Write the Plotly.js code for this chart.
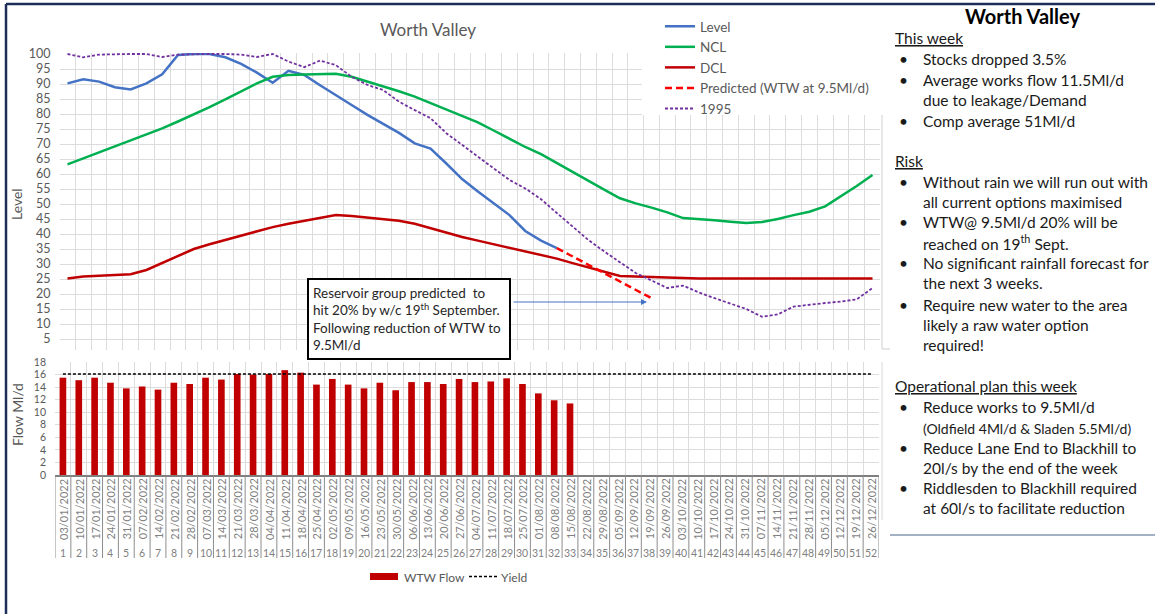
<!DOCTYPE html>
<html><head><meta charset="utf-8">
<script src="https://cdn.plot.ly/plotly-3.0.1.min.js"></script>
<style>html,body{margin:0;padding:0;background:#fff;}#chart{width:1155px;height:614px;}</style>
</head><body><div id="chart"></div>
<script>
// ---------- DATA ----------
const weeks = [1,2,3,4,5,6,7,8,9,10,11,12,13,14,15,16,17,18,19,20,21,22,23,24,25,26,27,28,29,30,31,32,33,34,35,36,37,38,39,40,41,42,43,44,45,46,47,48,49,50,51,52];
const weekDates = ["03/01/2022","10/01/2022","17/01/2022","24/01/2022","31/01/2022","07/02/2022","14/02/2022","21/02/2022","28/02/2022","07/03/2022","14/03/2022","21/03/2022","28/03/2022","04/04/2022","11/04/2022","18/04/2022","25/04/2022","02/05/2022","09/05/2022","16/05/2022","23/05/2022","30/05/2022","06/06/2022","13/06/2022","20/06/2022","27/06/2022","04/07/2022","11/07/2022","18/07/2022","25/07/2022","01/08/2022","08/08/2022","15/08/2022","22/08/2022","29/08/2022","05/09/2022","12/09/2022","19/09/2022","26/09/2022","03/10/2022","10/10/2022","17/10/2022","24/10/2022","31/10/2022","07/11/2022","14/11/2022","21/11/2022","28/11/2022","05/12/2022","12/12/2022","19/12/2022","26/12/2022"];
const level = [90.2,91.6,90.8,88.9,88.2,90.2,93.2,99.7,100,100,98.9,96.7,93.8,90.4,94.4,93.0,89.6,86.2,83.0,79.7,76.8,73.7,70.2,68.5,63.5,58.3,54.2,50.2,46.3,41.0,37.8,35.3];
const ncl = [63.2,65.2,67.2,69.2,71.1,73.0,75.2,77.5,79.8,82.3,84.9,87.6,90.2,92.4,93.0,93.2,93.4,93.4,92.4,90.8,89.3,87.6,85.8,83.6,81.6,79.4,77.2,74.5,71.8,69.0,66.6,63.6,60.6,57.8,54.8,51.9,50.2,48.8,47.2,45.3,45.0,44.6,44.1,43.7,44.0,45.0,46.3,47.4,49.2,52.5,56.0,59.7];
const dcl = [25.2,25.8,26.1,26.3,26.6,28.0,30.4,32.8,35.0,36.6,38.0,39.6,41.0,42.3,43.4,44.3,45.3,46.3,46.0,45.5,45.0,44.4,43.4,41.9,40.4,39.0,37.8,36.6,35.4,34.2,33.0,31.8,30.3,28.8,27.3,26.0,25.8,25.6,25.4,25.3,25.2,25.2,25.2,25.2,25.2,25.2,25.2,25.2,25.2,25.2,25.2,25.2];
const predictedWeeks = [32,33,34,35,36,37,38];
const predicted = [35.3,32.5,29.7,27.0,24.2,21.4,18.6];
const year1995 = [100,98.9,99.8,100,100,100,99.0,99.8,100,100,100,99.8,99.0,100,97.5,95.6,97.8,96.3,92.4,89.7,88.0,84.1,81.3,78.6,73.6,69.7,65.8,61.9,58.0,55.2,51.6,47.0,42.4,38.0,34.2,30.5,27.0,24.5,22.0,22.8,20.5,18.6,16.8,15.0,12.4,13.2,15.8,16.5,17.0,17.5,18.2,22.0];
const wtwFlow = [15.5,15.1,15.5,14.7,13.8,14.1,13.6,14.7,14.5,15.5,15.2,16.1,16.0,16.1,16.7,16.3,14.4,15.3,14.4,13.8,14.7,13.5,14.8,14.8,14.5,15.3,14.8,14.9,15.4,14.5,13.0,11.9,11.4];
const yieldFlow = [16.1,16.1,16.1,16.1,16.1,16.1,16.1,16.1,16.1,16.1,16.1,16.1,16.1,16.1,16.1,16.1,16.1,16.1,16.1,16.1,16.1,16.1,16.1,16.1,16.1,16.1,16.1,16.1,16.1,16.1,16.1,16.1,16.1,16.1,16.1,16.1,16.1,16.1,16.1,16.1,16.1,16.1,16.1,16.1,16.1,16.1,16.1,16.1,16.1,16.1,16.1,16.1];

// ---------- HELPERS ----------
const W = 1155, H = 614;
const px = x => x / W;
const py = y => 1 - y / H;
const FONT = 'Lato, "Open Sans", sans-serif';
const GRAY = '#595959';
const INK = '#1a1a1a';
const BODY = 15.5;
const TOP = {l: 59.6, r: 880.4, t: 53.1, b: 349.5, ymin: 1.5, ymax: 100.3};
const BOT = {l: 55, r: 879, t: 362, b: 475};
const topWeekAt = p => 0.5 + (p - TOP.l) / ((TOP.r - TOP.l) / 52);
const topValAt = p => TOP.ymax - (p - TOP.t) / ((TOP.b - TOP.t) / (TOP.ymax - TOP.ymin));

// ---------- TRACES ----------
const traces = [
  {x: weeks.slice(0, level.length), y: level, name: 'Level', type: 'scatter', mode: 'lines',
   line: {color: '#4472C4', width: 2.5}, xaxis: 'x', yaxis: 'y'},
  {x: weeks, y: ncl, name: 'NCL', type: 'scatter', mode: 'lines',
   line: {color: '#00B050', width: 2.5}, xaxis: 'x', yaxis: 'y'},
  {x: weeks, y: dcl, name: 'DCL', type: 'scatter', mode: 'lines',
   line: {color: '#C00000', width: 2.5}, xaxis: 'x', yaxis: 'y'},
  {x: predictedWeeks, y: predicted, name: 'Predicted (WTW at 9.5Ml/d)', type: 'scatter', mode: 'lines',
   line: {color: '#FF0000', width: 2.5, dash: '7px,4px'}, xaxis: 'x', yaxis: 'y'},
  {x: weeks, y: year1995, name: '1995', type: 'scatter', mode: 'lines',
   line: {color: '#7030A0', width: 1.8, dash: '3px,2px'}, xaxis: 'x', yaxis: 'y'},
  {x: weeks.slice(0, wtwFlow.length), y: wtwFlow, name: 'WTW Flow', type: 'bar', width: 0.42,
   marker: {color: '#C00000'}, xaxis: 'x2', yaxis: 'y2', showlegend: false},
  {x: weeks, y: yieldFlow, name: 'Yield', type: 'scatter', mode: 'lines',
   line: {color: '#000000', width: 1.5, dash: '3px,2px'}, xaxis: 'x2', yaxis: 'y2', showlegend: false}
];

// ---------- SHAPES ----------
const shapes = [];
// white area behind top legend (covers grid)
shapes.push({type: 'rect', xref: 'x', yref: 'y', layer: 'between',
  x0: topWeekAt(642), x1: topWeekAt(885), y0: topValAt(115), y1: topValAt(45),
  fillcolor: '#ffffff', line: {width: 0}});
// category table lines below bottom chart
const boundaries = weeks.map(w => w - 0.5).concat([weeks[weeks.length - 1] + 0.5]);
boundaries.forEach(b => shapes.push({type: 'line', xref: 'x2', yref: 'paper',
  x0: b, x1: b, y0: py(BOT.b), y1: py(558), line: {color: '#8c8c8c', width: 1}}));
// outer frame (navy)
shapes.push({type: 'line', xref: 'paper', yref: 'paper', x0: px(6), x1: px(1155), y0: py(4), y1: py(4), line: {color: '#1F2D5A', width: 2.5}});
shapes.push({type: 'line', xref: 'paper', yref: 'paper', x0: px(6), x1: px(6), y0: py(4), y1: py(614), line: {color: '#1F2D5A', width: 2.5}});
// faint chart borders
shapes.push({type: 'line', xref: 'paper', yref: 'paper', x0: px(882), x1: px(882), y0: py(115), y1: py(349), line: {color: '#d0d0d0', width: 1}});
shapes.push({type: 'line', xref: 'paper', yref: 'paper', x0: px(882), x1: px(890), y0: py(349), y1: py(349), line: {color: '#d0d0d0', width: 1}});
shapes.push({type: 'line', xref: 'paper', yref: 'paper', x0: px(882), x1: px(882), y0: py(362), y1: py(520), line: {color: '#d8d8d8', width: 1}});
// right-panel separator
shapes.push({type: 'line', xref: 'paper', yref: 'paper', x0: px(890), x1: px(1155), y0: py(535), y1: py(535), line: {color: '#8497B0', width: 1.5}});
// bottom legend symbols
shapes.push({type: 'rect', xref: 'paper', yref: 'paper', x0: px(370), x1: px(398), y0: py(580), y1: py(573), fillcolor: '#C00000', line: {width: 0}});
shapes.push({type: 'line', xref: 'paper', yref: 'paper', x0: px(469), x1: px(497), y0: py(576.5), y1: py(576.5), line: {color: '#000', width: 1.5, dash: '3px,2px'}});

// ---------- ANNOTATIONS ----------
const ann = [];
const txt = (x, y, text, opt = {}) => ann.push(Object.assign({
  xref: 'paper', yref: 'paper', x: px(x), y: py(y), text: text, showarrow: false,
  xanchor: 'left', yanchor: 'middle', font: {family: FONT, size: BODY, color: INK}}, opt));

// axis titles
txt(17, 204, 'Level', {xanchor: 'center', textangle: -90, font: {family: FONT, size: 14, color: GRAY}});
txt(17, 415, 'Flow Ml/d', {xanchor: 'center', textangle: -90, font: {family: FONT, size: 14, color: GRAY}});

// category labels (dates + week numbers)
weeks.forEach((w, i) => {
  ann.push({xref: 'x2', yref: 'paper', x: w, y: py(509), text: weekDates[i], textangle: -90,
    showarrow: false, xanchor: 'center', yanchor: 'middle', font: {family: FONT, size: 11, color: '#7f7f7f'}});
  ann.push({xref: 'x2', yref: 'paper', x: w, y: py(553), text: String(w),
    showarrow: false, xanchor: 'center', yanchor: 'middle', font: {family: FONT, size: 10.5, color: '#7f7f7f'}});
});

// bottom legend text
txt(402, 577, 'WTW Flow', {font: {family: FONT, size: 12, color: GRAY}});
txt(499, 577, 'Yield', {font: {family: FONT, size: 12, color: GRAY}});

// callout box
ann.push({xref: 'paper', yref: 'paper', x: px(307), y: py(278), xanchor: 'left', yanchor: 'top',
  text: 'Reservoir group predicted  to<br>hit 20% by w/c 19<sup>th</sup> September.<br>Following reduction of WTW to<br>9.5Ml/d',
  showarrow: false, align: 'left', valign: 'middle', width: 192, height: 70, borderpad: 4,
  bgcolor: '#ffffff', bordercolor: '#000000', borderwidth: 2,
  font: {family: FONT, size: 13.5, color: '#262626'}});
// arrow
ann.push({xref: 'x', yref: 'y', axref: 'x', ayref: 'y', x: topWeekAt(647), y: topValAt(302),
  ax: topWeekAt(512), ay: topValAt(302), text: '', showarrow: true, arrowhead: 2, arrowsize: 1,
  arrowwidth: 1.2, arrowcolor: '#4472C4'});

// right panel
txt(1022, 16, '<b>Worth Valley</b>', {xanchor: 'center', font: {family: FONT, size: 20, color: '#000'}});
const heading = (y, t) => txt(893, y, '<u>' + t + '</u>', {font: {family: FONT, size: BODY, color: INK}});
const bullet = y => txt(897, y, '•', {font: {family: FONT, size: BODY, color: INK}});
const line = (y, t, size) => txt(921, y, t, {font: {family: FONT, size: size || BODY, color: INK}});
heading(38, 'This week');
bullet(59); line(59, 'Stocks dropped 3.5%');
bullet(80); line(80, 'Average works flow 11.5Ml/d');
line(100, 'due to leakage/Demand');
bullet(121); line(121, 'Comp average 51Ml/d');
heading(161, 'Risk');
bullet(182); line(182, 'Without rain we will run out with');
line(202, 'all current options maximised');
bullet(222); line(222, 'WTW@ 9.5Ml/d 20% will be');
line(243, 'reached on 19<sup>th</sup> Sept.');
bullet(263); line(263, 'No significant rainfall forecast for');
line(283, 'the next 3 weeks.');
bullet(305); line(305, 'Require new water to the area');
line(325, 'likely a raw water option');
line(345, 'required!');
heading(386, 'Operational plan this week');
bullet(407); line(407, 'Reduce works to 9.5Ml/d');
line(428, '(Oldfield 4Ml/d &amp; Sladen 5.5Ml/d)', 14);
bullet(448); line(448, 'Reduce Lane End to Blackhill to');
line(468, '20l/s by the end of the week');
bullet(488); line(488, 'Riddlesden to Blackhill required');
line(508, 'at 60l/s to facilitate reduction');

// ---------- LAYOUT ----------
const layout = {
  width: W, height: H, margin: {l: 0, r: 0, t: 0, b: 0},
  paper_bgcolor: '#ffffff', plot_bgcolor: '#ffffff',
  font: {family: FONT, color: GRAY},
  title: {text: 'Worth Valley', font: {family: FONT, size: 17, color: GRAY},
    xref: 'paper', yref: 'paper', x: px(428), xanchor: 'center', y: py(30), yanchor: 'middle'},
  showlegend: true,
  legend: {x: px(660), y: py(11), xanchor: 'left', yanchor: 'top', bgcolor: 'rgba(255,255,255,0)',
    font: {family: FONT, size: 13.5, color: GRAY}, traceorder: 'normal'},
  xaxis: {domain: [px(TOP.l), px(TOP.r)], range: [0.5, 52.5], anchor: 'y', showticklabels: false,
    showgrid: true, gridcolor: '#dcdcdc', tick0: 0.5, dtick: 1, zeroline: false, showline: false, ticks: ''},
  yaxis: {domain: [py(TOP.b), py(TOP.t)], range: [TOP.ymin, TOP.ymax], anchor: 'x', tick0: 0, dtick: 5,
    showgrid: true, gridcolor: '#dcdcdc', zeroline: false, showline: false, ticks: '',
    ticklabelstandoff: 8, tickfont: {family: FONT, size: 12.5, color: GRAY}},
  xaxis2: {domain: [px(BOT.l), px(BOT.r)], range: [0.5, 52.5], anchor: 'y2', showticklabels: false,
    showgrid: true, gridcolor: '#dcdcdc', tick0: 0.5, dtick: 1, zeroline: false,
    showline: true, linecolor: '#7f7f7f', linewidth: 1.5, ticks: ''},
  yaxis2: {domain: [py(BOT.b), py(BOT.t)], range: [0, 18], anchor: 'x2', tick0: 0, dtick: 2,
    showgrid: true, gridcolor: '#dcdcdc', zeroline: false, showline: false, ticks: '',
    ticklabelstandoff: 8, tickfont: {family: FONT, size: 10.5, color: GRAY}},
  shapes: shapes,
  annotations: ann
};

Plotly.newPlot('chart', traces, layout, {displayModeBar: false, staticPlot: true});
</script>
</body></html>
